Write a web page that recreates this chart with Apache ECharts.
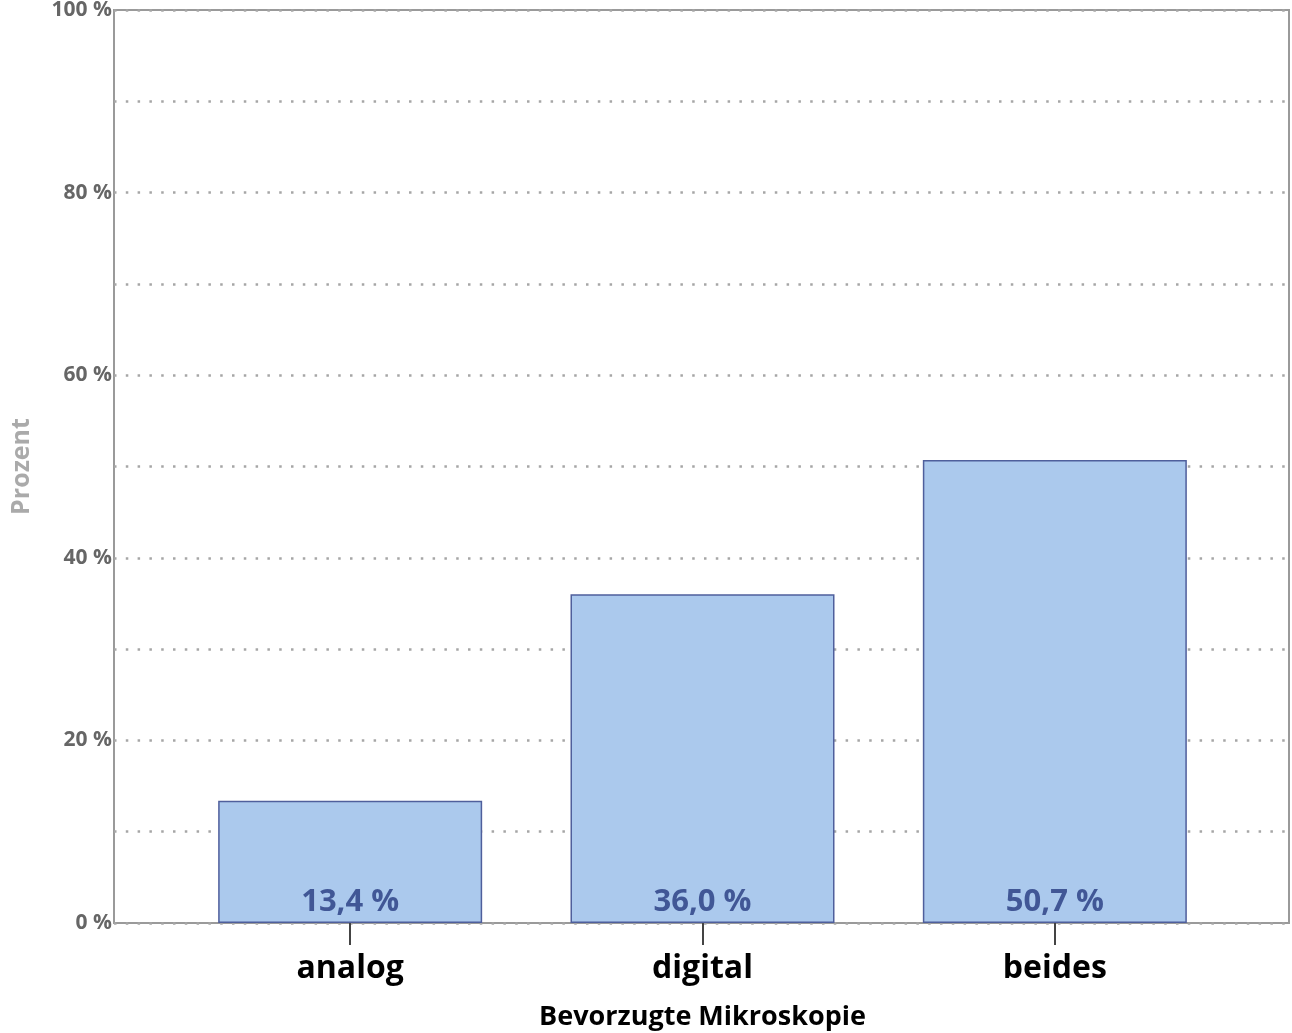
<!DOCTYPE html>
<html>
<head>
<meta charset="utf-8">
<script src="https://cdn.jsdelivr.net/npm/echarts@6/dist/echarts.min.js"></script>
<style>
  html, body { margin: 0; padding: 0; background: #fff; }
  #chart { width: 1292px; height: 1033px; }
</style>
</head>
<body>
<div id="chart"></div>
<script>
const categories = ["analog", "digital", "beides"];
const percentages = [13.4, 36.0, 50.7];
const yTicks = [0, 20, 40, 60, 80, 100];

const font = "'Open Sans', 'Noto Sans', sans-serif";

const chart = echarts.init(document.getElementById("chart"));

chart.setOption({
  animation: false,
  grid: [
    // outer box with border and gridlines
    { left: 114, top: 10, width: 1175, height: 913, show: true, borderColor: "#9a9a9a", borderWidth: 2, outerBoundsMode: "none" },
    // inner band where the categories live
    { left: 174, top: 10, width: 1057, height: 913, outerBoundsMode: "none" },
  ],
  xAxis: [
    { gridIndex: 0, type: "value", min: 0, max: 1, show: false },
    {
      gridIndex: 1,
      type: "category",
      data: categories,
      axisLine: { show: false },
      axisTick: { show: true, alignWithLabel: true, length: 22, lineStyle: { color: "#444", width: 2 } },
      axisLabel: { margin: 30, fontSize: 32, fontWeight: "bold", color: "#000", fontFamily: font },
      name: "Bevorzugte Mikroskopie",
      nameLocation: "middle",
      nameGap: 81,
      nameTextStyle: { fontSize: 27, fontWeight: "bold", color: "#000", fontFamily: font },
    },
  ],
  yAxis: [
    {
      gridIndex: 0,
      type: "value",
      min: 0,
      max: 100,
      interval: 10,
      axisLine: { show: false },
      axisTick: { show: false },
      axisLabel: {
        margin: 2,
        fontSize: 21,
        fontWeight: "bold",
        color: "#666",
        fontFamily: font,
        formatter: (v) => (yTicks.includes(v) ? v + " %" : ""),
      },
      splitLine: { lineStyle: { type: [2.5, 9.3], color: "#a6a6a6", width: 2.5 } },
      name: "Prozent",
      nameLocation: "middle",
      nameRotate: 90,
      nameGap: 80,
      nameTextStyle: { fontSize: 25, fontWeight: "bold", color: "#aaa", fontFamily: font },
    },
    { gridIndex: 1, type: "value", min: 0, max: 100, show: false },
  ],
  series: [
    {
      type: "bar",
      xAxisIndex: 1,
      yAxisIndex: 1,
      data: percentages,
      barWidth: 264,
      itemStyle: { color: "#abc9ed", borderColor: "#4f5f9c", borderWidth: 1.5 },
      label: {
        show: true,
        position: "insideBottom",
        distance: 5,
        fontSize: 31,
        fontWeight: "bold",
        color: "#415796",
        fontFamily: font,
        formatter: (p) => p.value.toFixed(1).replace(".", ",") + " %",
      },
    },
  ],
});
</script>
</body>
</html>
